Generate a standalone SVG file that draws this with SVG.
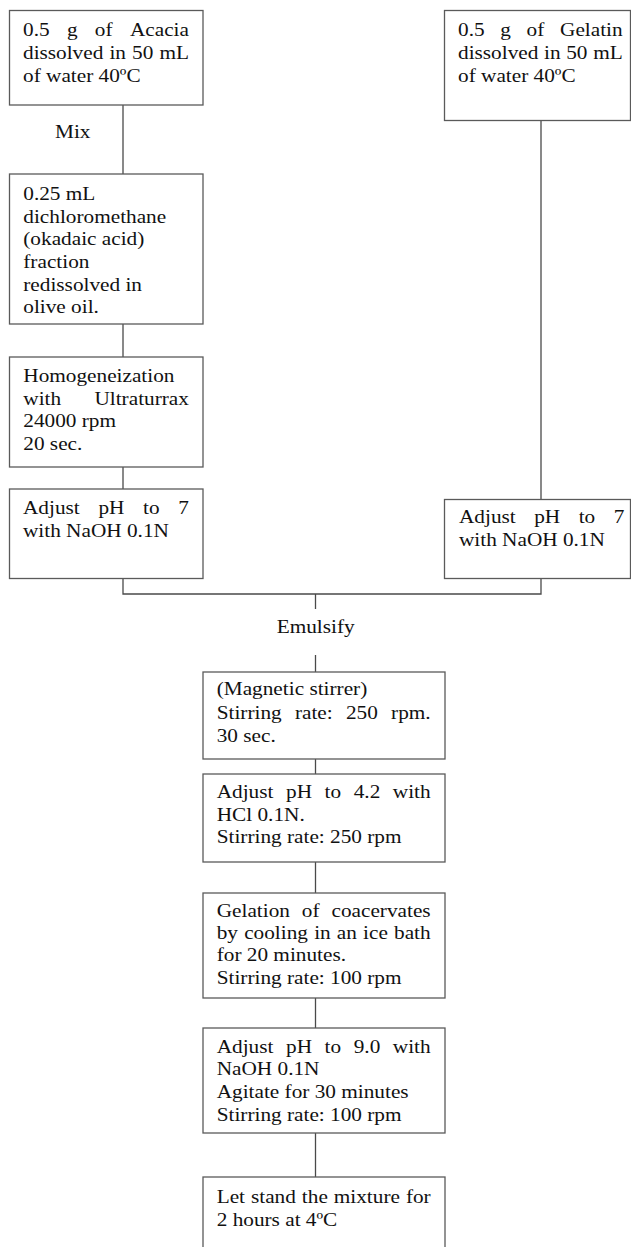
<svg xmlns="http://www.w3.org/2000/svg" width="631" height="1247" viewBox="0 0 631 1247">
<style>
.box{fill:#fff;stroke:#5a5a5a;stroke-width:1.3}
.ln{fill:none;stroke:#4a4a4a;stroke-width:1.3}
.t{font-family:"Liberation Serif","Times New Roman",serif;font-size:19px;fill:#111}
</style>
<rect width="631" height="1247" fill="#fff"/>
<g id="connectors">
<line class="ln" x1="123" y1="105" x2="123" y2="174"/>
<line class="ln" x1="123" y1="324" x2="123" y2="357"/>
<line class="ln" x1="123" y1="467" x2="123" y2="500"/>
<line class="ln" x1="541" y1="120.5" x2="541" y2="499.5"/>
<polyline class="ln" points="123,578.5 123,594 541,594 541,578.5"/>
<line class="ln" x1="315.5" y1="594" x2="315.5" y2="609"/>
<line class="ln" x1="315.5" y1="655" x2="315.5" y2="672"/>
<line class="ln" x1="315.5" y1="759" x2="315.5" y2="774"/>
<line class="ln" x1="315.5" y1="862" x2="315.5" y2="893"/>
<line class="ln" x1="315.5" y1="998" x2="315.5" y2="1028"/>
<line class="ln" x1="315.5" y1="1133" x2="315.5" y2="1177"/>
<text class="t" transform="scale(1.12 1)"><tspan x="49.1" y="138.3">Mix</tspan></text>
<text class="t" transform="scale(1.12 1)"><tspan x="247.05" y="633.3">Emulsify</tspan></text>
</g>
<g id="n1">
<rect class="box" x="9.5" y="10.5" width="193.5" height="94.5"/>
<text class="t" transform="scale(1.12 1)">
<tspan x="20.54" y="36.5">0.5</tspan><tspan x="59.75" y="36.5">g</tspan><tspan x="84.71" y="36.5">of</tspan><tspan x="116.01" y="36.5">Acacia</tspan>
<tspan x="20.54" y="59.5">dissolved</tspan><tspan x="97.74" y="59.5">in</tspan><tspan x="117.94" y="59.5">50</tspan><tspan x="142.36" y="59.5">mL</tspan>
<tspan x="20.54" y="82.5">of water 40ºC</tspan>
</text>
</g>
<g id="n2">
<rect class="box" x="444.5" y="10.5" width="186" height="110"/>
<text class="t" transform="scale(1.12 1)">
<tspan x="408.93" y="36.5">0.5</tspan><tspan x="446.69" y="36.5">g</tspan><tspan x="470.2" y="36.5">of</tspan><tspan x="500.04" y="36.5">Gelatin</tspan>
<tspan x="408.93" y="59.5">dissolved</tspan><tspan x="485.74" y="59.5">in</tspan><tspan x="505.55" y="59.5">50</tspan><tspan x="529.59" y="59.5">mL</tspan>
<tspan x="408.93" y="82.5">of water 40ºC</tspan>
</text>
</g>
<g id="n3">
<rect class="box" x="9.5" y="174" width="193.5" height="150"/>
<text class="t" transform="scale(1.12 1)">
<tspan x="20.8" y="200">0.25 mL</tspan>
<tspan x="20.8" y="222.7">dichloromethane</tspan>
<tspan x="20.8" y="245.4">(okadaic acid)</tspan>
<tspan x="20.8" y="268.1">fraction</tspan>
<tspan x="20.8" y="290.8">redissolved in</tspan>
<tspan x="20.8" y="313.5">olive oil.</tspan>
</text>
</g>
<g id="n4">
<rect class="box" x="9.5" y="357" width="193.5" height="110"/>
<text class="t" transform="scale(1.12 1)">
<tspan x="20.8" y="382">Homogeneization</tspan>
<tspan x="20.8" y="404.7">with</tspan><tspan x="84.33" y="404.7">Ultraturrax</tspan>
<tspan x="20.8" y="427.4">24000 rpm</tspan>
<tspan x="20.8" y="450">20 sec.</tspan>
</text>
</g>
<g id="n5">
<rect class="box" x="9.5" y="489" width="193.5" height="89.5"/>
<text class="t" transform="scale(1.12 1)">
<tspan x="20.54" y="514">Adjust</tspan><tspan x="87.89" y="514">pH</tspan><tspan x="127.79" y="514">to</tspan><tspan x="159.25" y="514">7</tspan>
<tspan x="20.54" y="537">with NaOH 0.1N</tspan>
</text>
</g>
<g id="n6">
<rect class="box" x="444.5" y="499.5" width="186" height="79"/>
<text class="t" transform="scale(1.12 1)">
<tspan x="409.82" y="523.3">Adjust</tspan><tspan x="476.96" y="523.3">pH</tspan><tspan x="516.65" y="523.3">to</tspan><tspan x="547.91" y="523.3">7</tspan>
<tspan x="409.82" y="546">with NaOH 0.1N</tspan>
</text>
</g>
<g id="c1">
<rect class="box" x="203" y="672" width="242" height="87"/>
<text class="t" transform="scale(1.12 1)">
<tspan x="193.48" y="695">(Magnetic stirrer)</tspan>
<tspan x="193.48" y="719">Stirring</tspan><tspan x="263.34" y="719">rate:</tspan><tspan x="308.9" y="719">250</tspan><tspan x="349.19" y="719">rpm.</tspan>
<tspan x="193.48" y="742">30 sec.</tspan>
</text>
</g>
<g id="c2">
<rect class="box" x="203" y="774" width="242" height="88"/>
<text class="t" transform="scale(1.12 1)">
<tspan x="193.48" y="798">Adjust</tspan><tspan x="255.37" y="798">pH</tspan><tspan x="289.81" y="798">to</tspan><tspan x="315.81" y="798">4.2</tspan><tspan x="350.77" y="798">with</tspan>
<tspan x="193.48" y="821">HCl 0.1N.</tspan>
<tspan x="193.48" y="843.5">Stirring rate: 250 rpm</tspan>
</text>
</g>
<g id="c3">
<rect class="box" x="203" y="893" width="242" height="105"/>
<text class="t" transform="scale(1.12 1)">
<tspan x="193.48" y="916.7">Gelation</tspan><tspan x="269.51" y="916.7">of</tspan><tspan x="295.93" y="916.7">coacervates</tspan>
<tspan x="193.48" y="939.3">by</tspan><tspan x="217.98" y="939.3">cooling</tspan><tspan x="280.48" y="939.3">in</tspan><tspan x="300.76" y="939.3">an</tspan><tspan x="324.2" y="939.3">ice</tspan><tspan x="351.83" y="939.3">bath</tspan>
<tspan x="193.48" y="961.5">for 20 minutes.</tspan>
<tspan x="193.48" y="984">Stirring rate: 100 rpm</tspan>
</text>
</g>
<g id="c4">
<rect class="box" x="203" y="1028" width="242" height="105"/>
<text class="t" transform="scale(1.12 1)">
<tspan x="193.48" y="1053.3">Adjust</tspan><tspan x="255.37" y="1053.3">pH</tspan><tspan x="289.81" y="1053.3">to</tspan><tspan x="315.81" y="1053.3">9.0</tspan><tspan x="350.77" y="1053.3">with</tspan>
<tspan x="193.48" y="1075.5">NaOH 0.1N</tspan>
<tspan x="193.48" y="1098.3">Agitate for 30 minutes</tspan>
<tspan x="193.48" y="1120.7">Stirring rate: 100 rpm</tspan>
</text>
</g>
<g id="c5">
<rect class="box" x="203" y="1177" width="242" height="80"/>
<text class="t" transform="scale(1.12 1)">
<tspan x="193.48" y="1203.3">Let</tspan><tspan x="224.1" y="1203.3">stand</tspan><tspan x="269.5" y="1203.3">the</tspan><tspan x="298.01" y="1203.3">mixture</tspan><tspan x="362.4" y="1203.3">for</tspan>
<tspan x="193.48" y="1225.5">2 hours at 4ºC</tspan>
</text>
</g>
</svg>
